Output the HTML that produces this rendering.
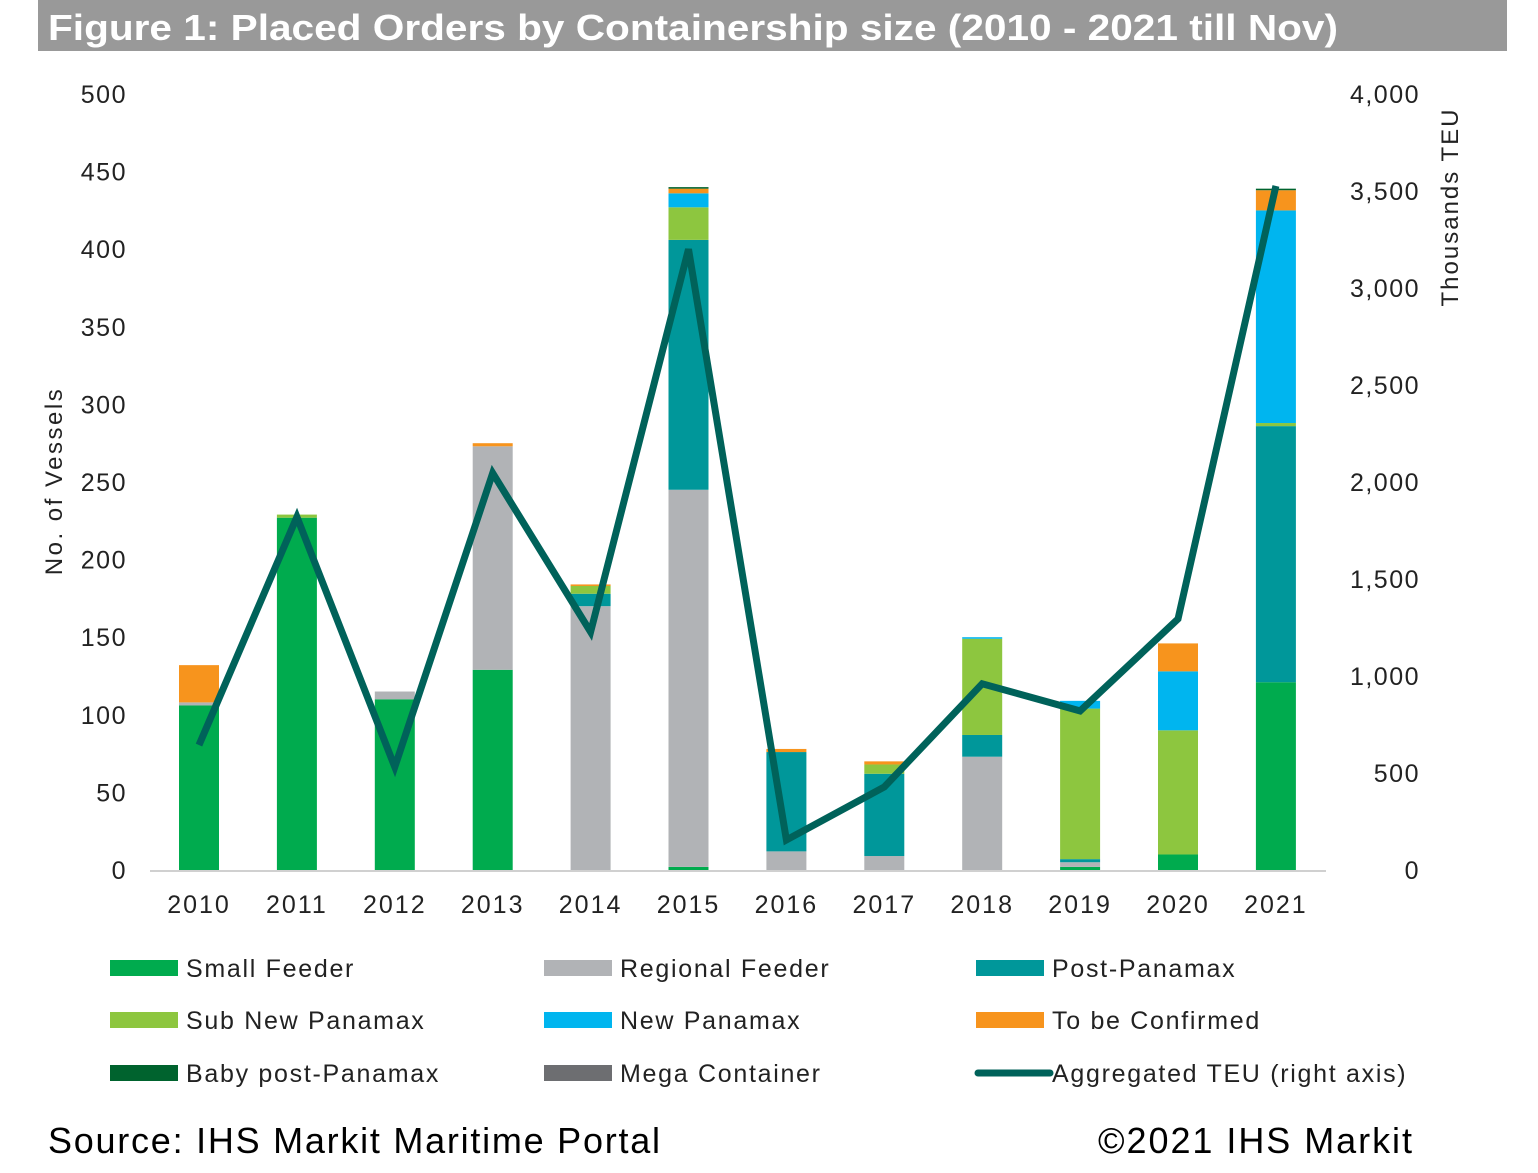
<!DOCTYPE html>
<html><head><meta charset="utf-8"><style>
body{margin:0;background:#fff;}
svg{display:block;font-family:"Liberation Sans",Arial,sans-serif;}
</style></head><body>
<svg id="chart" width="1538" height="1173" viewBox="0 0 1538 1173" xmlns="http://www.w3.org/2000/svg">
<rect x="38" y="0" width="1469" height="51" fill="#999999"/>
<text x="48" y="40" font-size="36" font-weight="bold" fill="#fff" textLength="1290" lengthAdjust="spacingAndGlyphs">Figure 1: Placed Orders by Containership size (2010 - 2021 till Nov)</text>
<g id="yleft"></g>
<g id="yright"></g>
<line x1="150" y1="871" x2="1326" y2="871" stroke="#d0d0d0" stroke-width="2"/>
<g id="bars"></g>
<g id="line"></g>
<g id="xlabels"></g>
<text transform="translate(62,481) rotate(-90)" text-anchor="middle" font-size="24" letter-spacing="2.5" fill="#222">No. of Vessels</text>
<text transform="translate(1458,207) rotate(-90)" text-anchor="middle" font-size="24" letter-spacing="2" fill="#222">Thousands TEU</text>
<g id="legend"></g>
<text x="48" y="1153" font-size="36" fill="#000" textLength="612" lengthAdjust="spacing">Source: IHS Markit Maritime Portal</text>
<text x="1098" y="1153" font-size="36" fill="#000" textLength="314" lengthAdjust="spacing">©2021 IHS Markit</text>
</svg>
<script>
const years = ["2010","2011","2012","2013","2014","2015","2016","2017","2018","2019","2020","2021"];
const seriesNames = ["Small Feeder","Regional Feeder","Post-Panamax","Sub New Panamax","New Panamax","To be Confirmed","Baby post-Panamax","Mega Container"];
const smallFeeder    = [106,227,110,129,0,2,0,0,0,2,10,121];
const regionalFeeder = [2,0,5,144,170,243,12,9,73,3,0,0];
const postPanamax    = [0,0,0,0,8,161,64,53,14,2,0,165];
const subNewPanamax  = [0,2,0,0,5,21,0,6,62,97,80,2];
const newPanamax     = [0,0,0,0,0,9,0,0,1,5,38,137];
const toBeConfirmed  = [24,0,0,2,1,3,2,2,0,0,18,13];
const babyPostPanamax= [0,0,0,0,0,1,0,0,0,0,0,1];
const megaContainer  = [0,0,0,0,0,0,0,0,0,0,0,0];
const teu = [644,1820,531,2046,1227,3200,155,428,960,820,1294,3526];
const leftTicks = [0,50,100,150,200,250,300,350,400,450,500];
const rightTicks = [0,500,1000,1500,2000,2500,3000,3500,4000];
const NS="http://www.w3.org/2000/svg";
const y0=870, yTop=94;
const yL=v=>y0-(v/500)*(y0-yTop);
const yR=v=>y0-(v/4000)*(y0-yTop);
const xC=i=>199+i*97.9;
const bw=40;
const colors=["#00ab4e","#b1b3b6","#00979a","#8dc63f","#00b5ef","#f7941d","#00632e","#6d6e71"];
const data=[smallFeeder,regionalFeeder,postPanamax,subNewPanamax,newPanamax,toBeConfirmed,babyPostPanamax,megaContainer];
const slug=s=>s.toLowerCase().replace(/[^a-z0-9]+/g,'-');
function mk(tag,attrs,parent){const e=document.createElementNS(NS,tag);for(const k in attrs)e.setAttribute(k,attrs[k]);parent.appendChild(e);return e;}
const gl=document.getElementById('yleft'),gr=document.getElementById('yright');
leftTicks.forEach(v=>{const t=mk('text',{x:127,y:yL(v)+9,'text-anchor':'end','font-size':25,'letter-spacing':1.5,fill:'#222'},gl);t.textContent=v;

});
rightTicks.forEach(v=>{const t=mk('text',{x:1420,y:yR(v)+9,'text-anchor':'end','font-size':25,'letter-spacing':1.5,fill:'#222'},gr);t.textContent=v.toLocaleString('en-US');

});
const gb=document.getElementById('bars');
years.forEach((yr,i)=>{let cum=0;data.forEach((s,k)=>{const v=s[i];if(v<=0)return;const r=mk('rect',{x:xC(i)-bw/2,y:yL(cum+v),width:bw,height:yL(cum)-yL(cum+v),fill:colors[k]},gb);


cum+=v;});
const t=mk('text',{x:xC(i),y:913,'text-anchor':'middle','font-size':25,'letter-spacing':2,fill:'#222'},document.getElementById('xlabels'));t.textContent=yr;

});
const p=mk('polyline',{points:teu.map((v,i)=>xC(i)+','+yR(v)).join(' '),fill:'none',stroke:'#00625a','stroke-width':7,'stroke-linejoin':'miter'},document.getElementById('line'));


const lg=document.getElementById('legend');
const legItems=[["Small Feeder",0],["Regional Feeder",1],["Post-Panamax",2],["Sub New Panamax",3],["New Panamax",4],["To be Confirmed",5],["Baby post-Panamax",6],["Mega Container",7],["Aggregated TEU (right axis)",-1]];
const lx=[110,544,976],ly=[968,1020,1073];
legItems.forEach((it,j)=>{const x=lx[j%3],y=ly[Math.floor(j/3)];const g=mk('g',{},lg);


if(it[1]>=0)mk('rect',{x:x,y:y-8,width:68,height:16,fill:colors[it[1]]},g);
else mk('line',{x1:x+2,y1:y,x2:x+74,y2:y,stroke:'#00625a','stroke-width':7,'stroke-linecap':'round'},g);
const t=mk('text',{x:x+76,y:y+9,'font-size':25,'letter-spacing':1.7,fill:'#222'},g);t.textContent=it[0];});
</script>
</body></html>
